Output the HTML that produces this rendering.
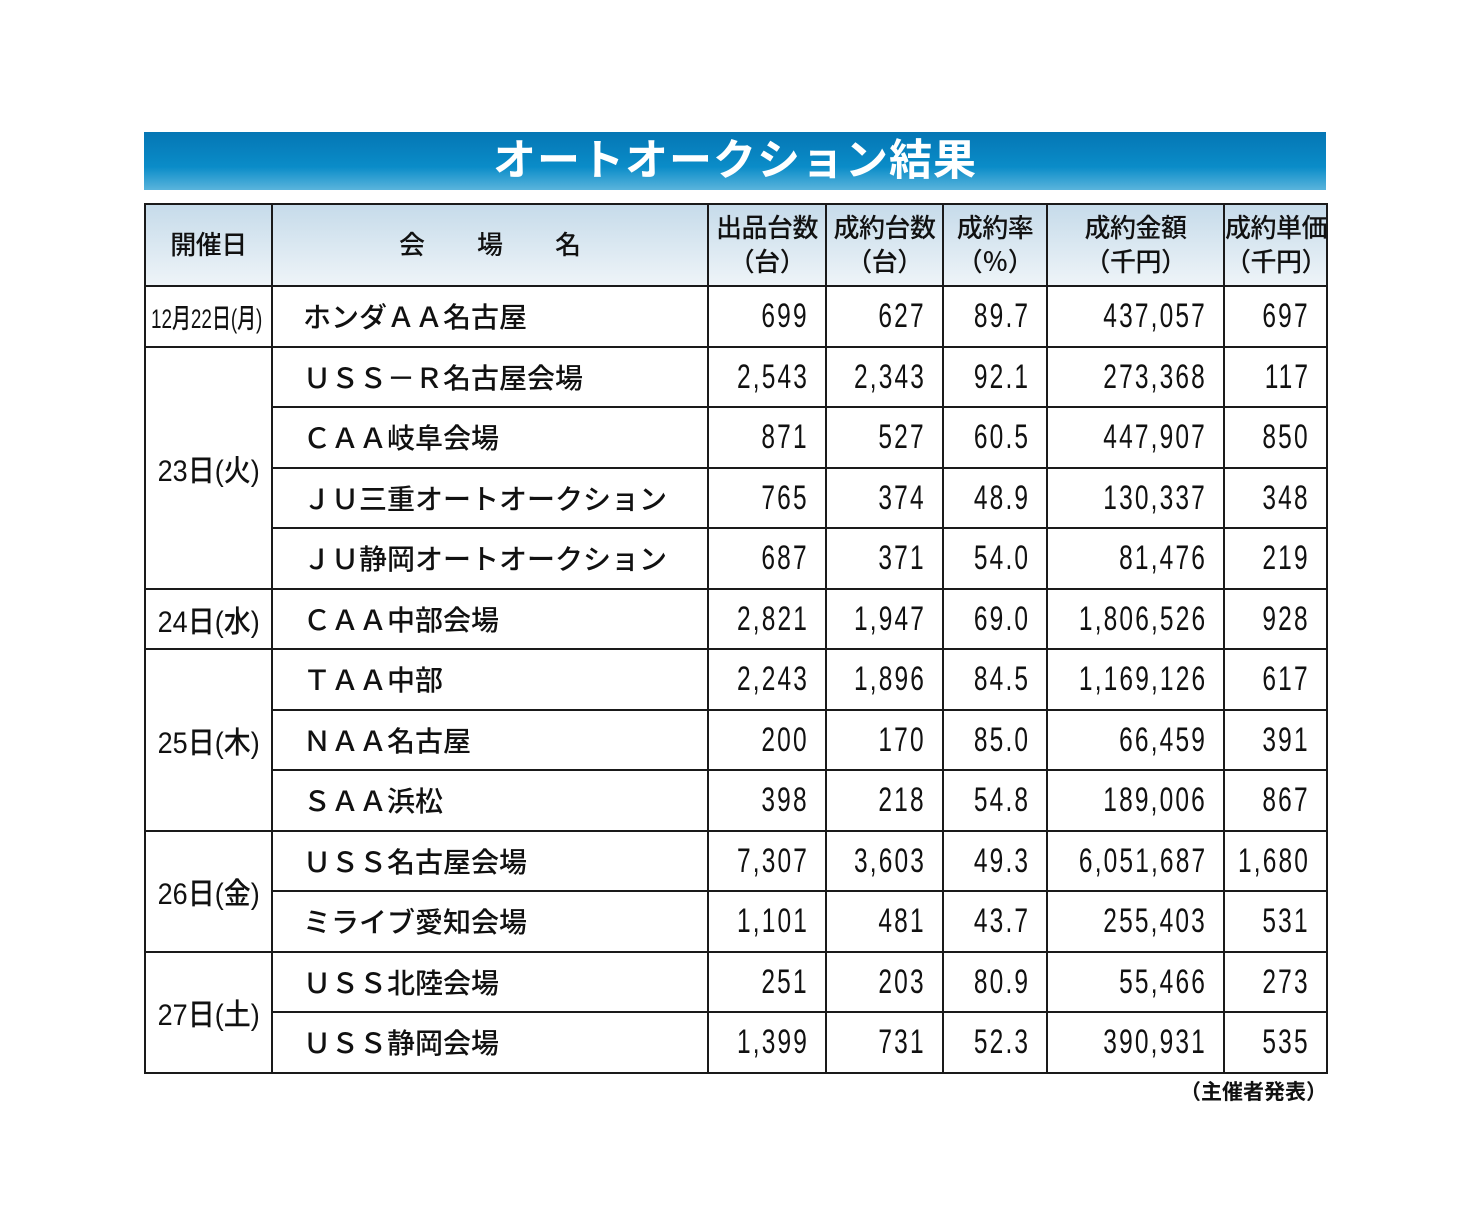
<!DOCTYPE html>
<html><head><meta charset="utf-8"><style>
body{margin:0;width:1458px;height:1207px;background:#fff;position:relative;font-family:"Liberation Sans","Noto Sans CJK JP",sans-serif;color:#111}
.title{position:absolute;left:144px;top:132px;width:1182px;height:58px;background:linear-gradient(#0576b4,#0a8cc8 60%,#5ab4dc);color:#fff;font-weight:bold;font-size:43px;text-align:center;line-height:58px;letter-spacing:1px}
table{position:absolute;left:144px;top:203px;border-collapse:collapse;table-layout:fixed;width:1182px}
td,th{border:2px solid #1a1a1a;padding:0;overflow:visible;white-space:nowrap}
th{background:linear-gradient(#c6dbea,#eef4f8);font-weight:500;font-size:26px;height:80px;line-height:34px;letter-spacing:-0.5px}
td{height:58.5px;font-size:28px}
.d{text-align:center;font-weight:500}
.d span{display:inline-block;transform:scaleX(0.9);transform-origin:center}
.v{padding-left:30px;font-weight:500}
.n{position:relative;font-size:34px;letter-spacing:3px}
.n span{position:absolute;right:16px;top:50%;line-height:40px;margin-top:-20px;transform:scaleX(0.72);transform-origin:right center}
.note{position:absolute;left:1180px;top:1076px;font-size:21px;font-weight:bold}
</style></head><body>
<div class="title">オートオークション結果</div>
<table>
<colgroup><col style="width:127px"><col style="width:436px"><col style="width:118px"><col style="width:117px"><col style="width:104px"><col style="width:177px"><col style="width:103px"></colgroup>
<tr><th>開催日</th><th style="letter-spacing:52px;padding-left:52px">会場名</th><th>出品台数<br>（台）</th><th>成約台数<br>（台）</th><th>成約率<br>（％）</th><th>成約金額<br>（千円）</th><th>成約単価<br>（千円）</th></tr>
<tr><td class="d" style="font-size:27px;text-align:left;padding-left:5px"><span style="transform:scaleX(0.7);transform-origin:left center">12月22日(月)</span></td><td class="v">ホンダＡＡ名古屋</td><td class="n"><span>699</span></td><td class="n"><span>627</span></td><td class="n"><span>89.7</span></td><td class="n"><span>437,057</span></td><td class="n"><span>697</span></td></tr>
<tr><td class="d" rowspan="4" style="font-size:30px"><span>23日(火)</span></td><td class="v">ＵＳＳ－Ｒ名古屋会場</td><td class="n"><span>2,543</span></td><td class="n"><span>2,343</span></td><td class="n"><span>92.1</span></td><td class="n"><span>273,368</span></td><td class="n"><span>117</span></td></tr>
<tr><td class="v">ＣＡＡ岐阜会場</td><td class="n"><span>871</span></td><td class="n"><span>527</span></td><td class="n"><span>60.5</span></td><td class="n"><span>447,907</span></td><td class="n"><span>850</span></td></tr>
<tr><td class="v">ＪＵ三重オートオークション</td><td class="n"><span>765</span></td><td class="n"><span>374</span></td><td class="n"><span>48.9</span></td><td class="n"><span>130,337</span></td><td class="n"><span>348</span></td></tr>
<tr><td class="v">ＪＵ静岡オートオークション</td><td class="n"><span>687</span></td><td class="n"><span>371</span></td><td class="n"><span>54.0</span></td><td class="n"><span>81,476</span></td><td class="n"><span>219</span></td></tr>
<tr><td class="d" style="font-size:30px"><span>24日(水)</span></td><td class="v">ＣＡＡ中部会場</td><td class="n"><span>2,821</span></td><td class="n"><span>1,947</span></td><td class="n"><span>69.0</span></td><td class="n"><span>1,806,526</span></td><td class="n"><span>928</span></td></tr>
<tr><td class="d" rowspan="3" style="font-size:30px"><span>25日(木)</span></td><td class="v">ＴＡＡ中部</td><td class="n"><span>2,243</span></td><td class="n"><span>1,896</span></td><td class="n"><span>84.5</span></td><td class="n"><span>1,169,126</span></td><td class="n"><span>617</span></td></tr>
<tr><td class="v">ＮＡＡ名古屋</td><td class="n"><span>200</span></td><td class="n"><span>170</span></td><td class="n"><span>85.0</span></td><td class="n"><span>66,459</span></td><td class="n"><span>391</span></td></tr>
<tr><td class="v">ＳＡＡ浜松</td><td class="n"><span>398</span></td><td class="n"><span>218</span></td><td class="n"><span>54.8</span></td><td class="n"><span>189,006</span></td><td class="n"><span>867</span></td></tr>
<tr><td class="d" rowspan="2" style="font-size:30px"><span>26日(金)</span></td><td class="v">ＵＳＳ名古屋会場</td><td class="n"><span>7,307</span></td><td class="n"><span>3,603</span></td><td class="n"><span>49.3</span></td><td class="n"><span>6,051,687</span></td><td class="n"><span>1,680</span></td></tr>
<tr><td class="v">ミライブ愛知会場</td><td class="n"><span>1,101</span></td><td class="n"><span>481</span></td><td class="n"><span>43.7</span></td><td class="n"><span>255,403</span></td><td class="n"><span>531</span></td></tr>
<tr><td class="d" rowspan="2" style="font-size:30px"><span>27日(土)</span></td><td class="v">ＵＳＳ北陸会場</td><td class="n"><span>251</span></td><td class="n"><span>203</span></td><td class="n"><span>80.9</span></td><td class="n"><span>55,466</span></td><td class="n"><span>273</span></td></tr>
<tr><td class="v">ＵＳＳ静岡会場</td><td class="n"><span>1,399</span></td><td class="n"><span>731</span></td><td class="n"><span>52.3</span></td><td class="n"><span>390,931</span></td><td class="n"><span>535</span></td></tr>
</table>
<div class="note">（主催者発表）</div>
</body></html>
